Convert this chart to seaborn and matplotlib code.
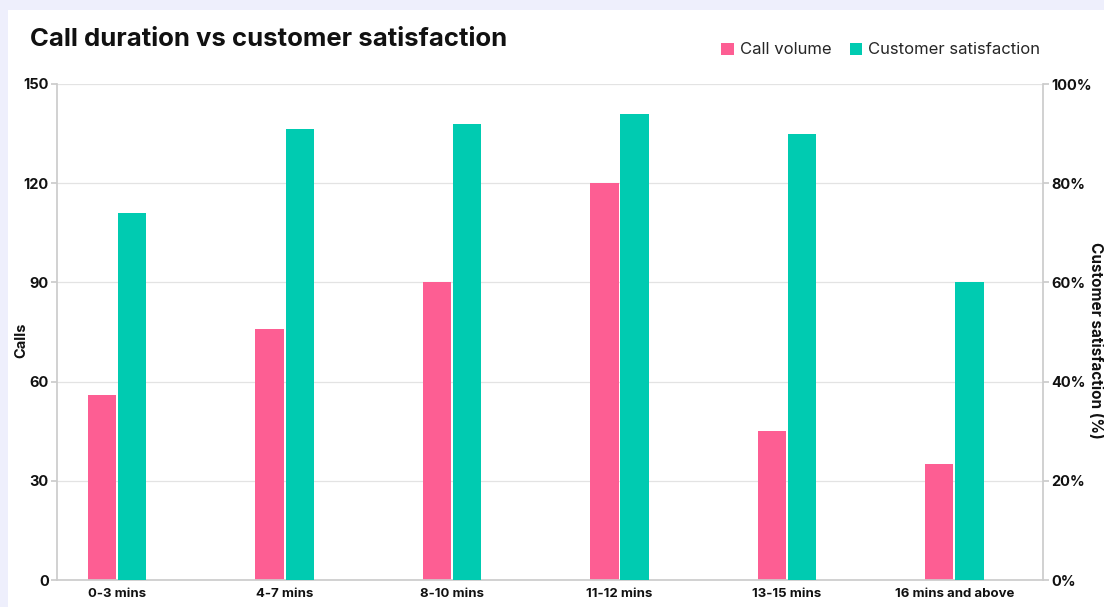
import matplotlib.pyplot as plt
import matplotlib.patches as mpatches
import numpy as np
import pandas as pd
import seaborn as sns

durations = ['0-3 mins', '4-7 mins', '8-10 mins', '11-12 mins', '13-15 mins', '16 mins and above']
call_volume = [56, 76, 90, 120, 45, 35]
satisfaction = [74, 91, 92, 94, 90, 60]

series = ['Call volume', 'Customer satisfaction']
PINK = '#FD5E93'
TEAL = '#00CBB1'

sns.set_theme(style='white')
plt.rcParams['font.family'] = ['Inter', 'DejaVu Sans']

n = len(durations)
df_calls = pd.DataFrame({
    'duration': durations * 2,
    'series': [series[0]] * n + [series[1]] * n,
    'value': call_volume + [0] * n,
})
df_sat = pd.DataFrame({
    'duration': durations * 2,
    'series': [series[0]] * n + [series[1]] * n,
    'value': [0] * n + satisfaction,
})

fig = plt.figure(figsize=(11.04, 6.07), dpi=100, facecolor='#EEEFFC')
fig.patches.append(mpatches.Rectangle(
    (8 / 1104, 0), 1, 1 - 10 / 607, transform=fig.transFigure,
    facecolor='white', edgecolor='none', zorder=-10))

ax = fig.add_axes([57 / 1104, 1 - 580 / 607, (1043 - 57) / 1104, (580 - 84) / 607])
ax2 = ax.twinx()

palette = {series[0]: PINK, series[1]: TEAL}
kw = dict(x='duration', y='value', hue='series', hue_order=series,
          palette=palette, width=0.36, gap=0.06, linewidth=0,
          legend=False, saturation=1)
sns.barplot(data=df_calls, ax=ax, **kw)
sns.barplot(data=df_sat, ax=ax2, **kw)

ax.set_xlim(-0.36, n - 1 + 0.53)
ax.set_ylim(0, 150)
ax.set_yticks(np.arange(0, 151, 30))
ax2.set_ylim(0, 100)
ax2.set_yticks(np.arange(0, 101, 20))
ax2.set_yticklabels([f'{v}%' for v in range(0, 101, 20)])

ax.grid(axis='y', color='#E3E3E3', linewidth=0.9)
ax.set_axisbelow(True)
ax2.grid(False)

for a in (ax, ax2):
    for s in a.spines.values():
        s.set_visible(False)
    a.set_xlabel('')
    a.set_facecolor('none')
for side, a in (('left', ax), ('right', ax2)):
    a.spines[side].set_visible(True)
    a.spines[side].set_color('#CCCCCC')
ax.spines['bottom'].set_visible(True)
ax.spines['bottom'].set_color('#CCCCCC')

ax.tick_params(axis='y', length=4, color='#CCCCCC', pad=2, labelsize=10.5)
ax2.tick_params(axis='y', length=4, color='#CCCCCC', pad=2, labelsize=10.5)
ax.tick_params(axis='x', length=0, pad=6, labelsize=9.5)
for lab in ax.get_yticklabels() + ax2.get_yticklabels() + ax.get_xticklabels():
    lab.set_fontweight('bold')
    lab.set_color('#111111')

ax.set_ylabel('Calls', fontsize=10.5, fontweight='bold', color='#111111', va='center')
ax.yaxis.set_label_coords(-0.036, 0.484)
ax2.set_ylabel('Customer satisfaction (%)', fontsize=11, fontweight='bold',
               color='#111111', rotation=270, va='center')
ax2.yaxis.set_label_coords(1.053, 0.484)

fig.text(30 / 1104, 1 - 39 / 607, 'Call duration vs customer satisfaction',
         fontsize=18.5, fontweight='bold', color='#111111', va='center', ha='left')

handles = [mpatches.Patch(facecolor=palette[s], edgecolor='none', label=s) for s in series]
fig.legend(handles=handles, loc='center right', bbox_to_anchor=(1055 / 1104, 1 - 50 / 607),
           ncol=2, frameon=False, fontsize=12, handlelength=0.75, handleheight=0.75,
           handletextpad=0.35, columnspacing=1.1)

fig.savefig('out.png', dpi=100, facecolor=fig.get_facecolor())
